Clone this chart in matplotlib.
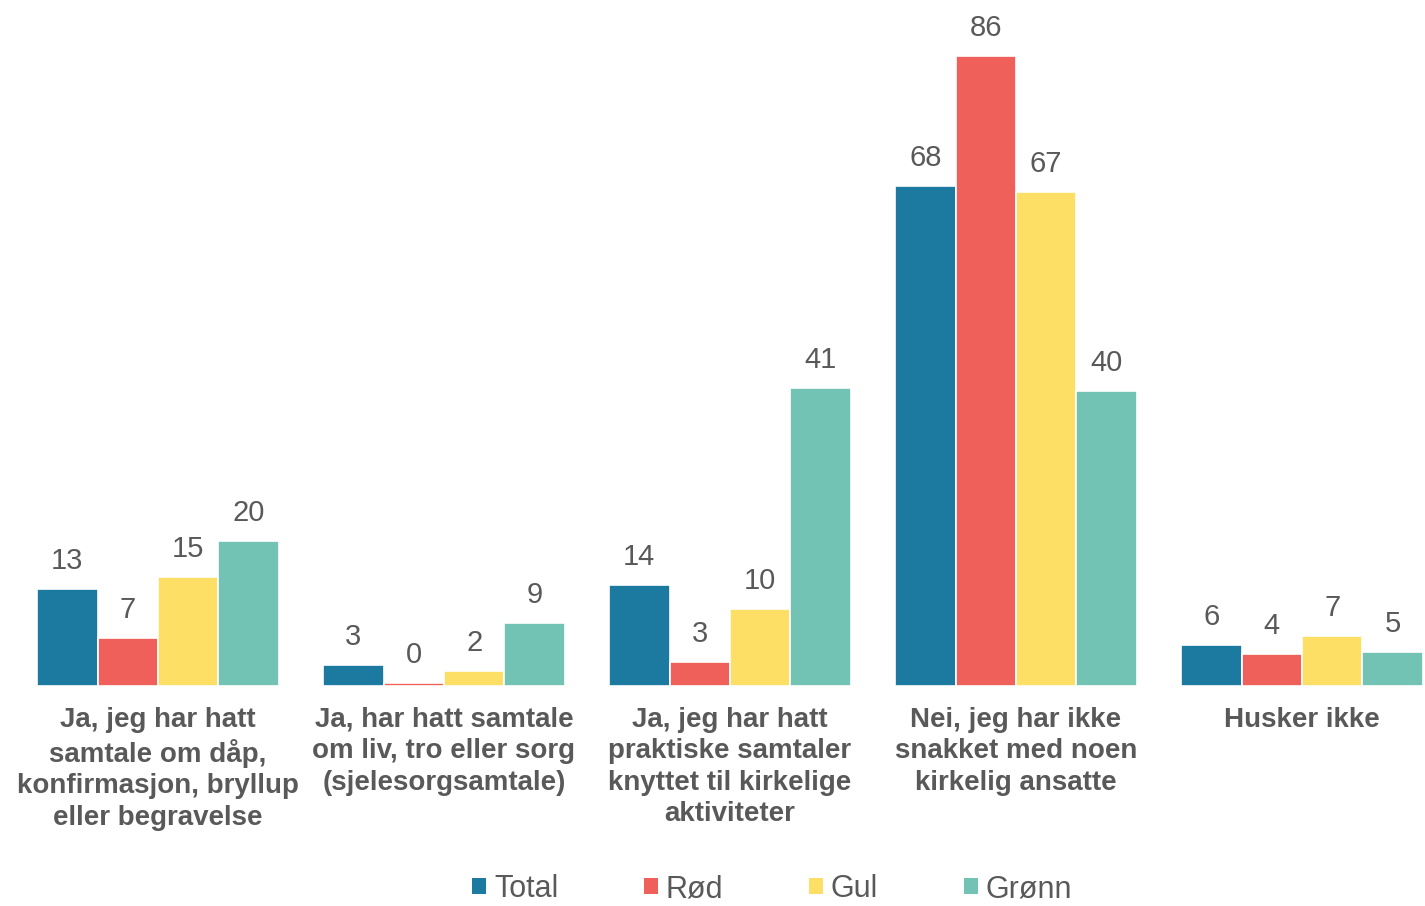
import matplotlib

matplotlib.use("Agg")
import matplotlib.pyplot as plt
import numpy as np
from matplotlib.patches import Patch

plt.rcParams["font.family"] = ["Liberation Sans", "DejaVu Sans"]

# Categories (x axis) and series values (percent)
categories = [
    "Ja, jeg har hatt\nsamtale om dåp,\nkonfirmasjon, bryllup\neller begravelse",
    "Ja, har hatt samtale\nom liv, tro eller sorg\n(sjelesorgsamtale)",
    "Ja, jeg har hatt\npraktiske samtaler\nknyttet til kirkelige\naktiviteter",
    "Nei, jeg har ikke\nsnakket med noen\nkirkelig ansatte",
    "Husker ikke",
]
series_names = ["Total", "Rød", "Gul", "Grønn"]
total = [13.2, 2.9, 13.8, 68.2, 5.6]
rod = [6.6, 0.4, 3.3, 86.0, 4.4]
gul = [14.9, 2.0, 10.5, 67.4, 6.8]
gronn = [19.8, 8.6, 40.7, 40.3, 4.6]

colors = ["#1C7AA0", "#F0605A", "#FCDF64", "#72C3B3"]
text_color = "#595959"

fig = plt.figure(figsize=(14.25, 9.06), dpi=100)
ax = fig.add_axes([0.0, 1 - 686 / 906, 1.0, 686 / 906])

x = np.arange(len(categories))
step = 0.2115
for i, (name, values) in enumerate(zip(series_names, [total, rod, gul, gronn])):
    pos = x + (i - 1.5) * step
    bars = ax.bar(pos, values, width=step, color=colors[i], edgecolor="white",
                  linewidth=1.2, label=name)
    for rect, v in zip(bars, values):
        ax.annotate(f"{v:.0f}", (rect.get_x() + rect.get_width() / 2, rect.get_height()),
                    xytext=(0, 10), textcoords="offset points", ha="center", va="bottom",
                    fontsize=21, color=text_color)

ax.set_xlim(-158 / 286, (1425 - 158) / 286)
ax.set_ylim(0, 686 / 7.326)
ax.set_xticks(x)
ax.set_xticklabels(categories, fontsize=20, fontweight="bold", color=text_color,
                   linespacing=1.27)
ax.tick_params(axis="x", length=0, pad=15)
ax.set_yticks([])
for spine in ax.spines.values():
    spine.set_visible(False)

# Legend along the bottom edge
handles = [Patch(facecolor=c, edgecolor="none") for c in colors]
fig.legend(handles, series_names, loc="center", bbox_to_anchor=(772 / 1425, 1 - 889 / 906),
           ncol=4, frameon=False, fontsize=22, labelcolor=text_color,
           handlelength=0.46, handleheight=0.46, handletextpad=0.26, columnspacing=2.8)

fig.savefig("out.png", dpi=100)
